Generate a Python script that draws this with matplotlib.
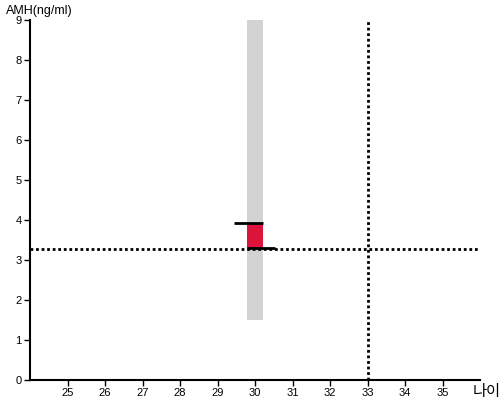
import matplotlib
matplotlib.use("Agg")
import matplotlib.pyplot as plt

plt.rcParams['font.family'] = ['Liberation Sans', 'Noto Sans CJK KR', 'DejaVu Sans']

# data
x_ticks = [25, 26, 27, 28, 29, 30, 31, 32, 33, 34, 35]
y_ticks = [0, 1, 2, 3, 4, 5, 6, 7, 8, 9]
age = 30
range_low, range_high = 1.5, 9.0
value_low, value_high = 3.29, 3.93
ref_amh = 3.28
ref_age = 33

fig = plt.figure(figsize=(5, 4), dpi=100)
ax = fig.add_axes([30/500, 20/400, 450/500, 360/400])
ax.set_xlim(24, 36)
ax.set_ylim(0, 9)

bw = 0.42
ax.bar(age - 0.01, range_high - range_low, bottom=range_low, width=bw, color='#d3d3d3', zorder=1)
ax.bar(age - 0.01, value_high - value_low, bottom=value_low, width=bw, color='#dc143c', zorder=2)
ax.plot([age - 0.55, age + 0.2], [value_high, value_high], color='black', lw=2, solid_capstyle='butt', zorder=4)
ax.plot([age - 0.22, age + 0.52], [value_low, value_low], color='black', lw=2, solid_capstyle='butt', zorder=4)

ax.axhline(ref_amh, color='black', lw=2, linestyle=(0, (1, 1)), zorder=3)
ax.axvline(ref_age, color='black', lw=2, linestyle=(0, (1, 1)), zorder=3)

ax.set_xticks(x_ticks)
ax.set_yticks(y_ticks)
ax.tick_params(axis='both', labelsize=8, length=4, width=1, pad=2)
for s in ['top', 'right']:
    ax.spines[s].set_visible(False)
for s in ['left', 'bottom']:
    ax.spines[s].set_linewidth(1.5)

fig.text(6/500, 1 - 11/400, 'AMH(ng/ml)', fontsize=9, va='center', ha='left')
fig.text(487/500, 1 - 392/400, '나이', fontsize=11, va='center', ha='center')

fig.savefig('out.png', dpi=100)
